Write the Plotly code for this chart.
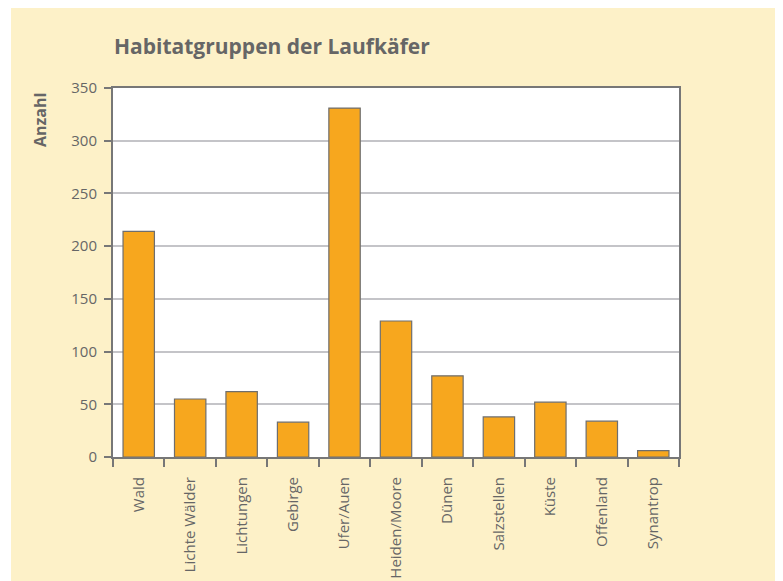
import plotly.graph_objects as go

categories = ["Wald", "Lichte Wälder", "Lichtungen", "Gebirge", "Ufer/Auen",
              "Heiden/Moore", "Dünen", "Salzstellen", "Küste", "Offenland", "Synantrop"]
values = [214, 55, 62, 33, 331, 129, 77, 38, 52, 34, 6]
y_ticks = [0, 50, 100, 150, 200, 250, 300, 350]

OFF = 8  # page body margin
W, H = 783, 581
L, R, T, B = 113 - OFF, 679 - OFF, 88 - OFF, 457 - OFF
BG = "#FDF1C8"
TXT = "#666666"
AX = "#777777"
FONT = "Open Sans"

fig = go.Figure(go.Bar(
    x=categories, y=values,
    marker=dict(color="#F7A71E", line=dict(color="#6E6E6E", width=1.2)),
    width=0.61,
))

pw, ph = R - L, B - T
def px_x(p): return (p - L) / pw
def px_y(p): return (B - p) / ph

fig.update_layout(
    width=W, height=H,
    margin=dict(l=L, r=W - R, t=T, b=H - B, pad=0, autoexpand=False),
    paper_bgcolor=BG, plot_bgcolor="white",
    showlegend=False,
    font=dict(family=FONT, color=TXT, size=15),
    title=dict(text="<b>Habitatgruppen der Laufkäfer</b>", x=(114 - OFF) / W, xanchor="left",
               y=1 - (47 - OFF) / H, yanchor="middle", xref="container", yref="container",
               font=dict(family=FONT, size=21, color=TXT)),
    bargap=0.39,
    xaxis=dict(
        type="category", tickangle=-90, showline=True, linecolor=AX, linewidth=2,
        mirror=True, ticks="outside", tickson="boundaries", ticklen=8, tickwidth=1.5,
        tickcolor=AX, showgrid=False, tickfont=dict(size=15, color=TXT, family=FONT),
        ticklabelstandoff=12, automargin=False,
    ),
    yaxis=dict(
        range=[0, 350], tickvals=y_ticks, showline=True, linecolor=AX, linewidth=2,
        mirror=True, ticks="outside", ticklen=7, tickwidth=1.5, tickcolor=AX,
        showgrid=True, gridcolor="#C4C4C8", gridwidth=1.5, zeroline=False,
        tickfont=dict(size=15, color=TXT, family=FONT), ticklabelstandoff=4,
        automargin=False,
    ),
    shapes=[
        dict(type="rect", xref="paper", yref="paper", x0=px_x(0) - 0.05, x1=px_x(3),
             y0=px_y(H) - 0.05, y1=px_y(0) + 0.05, fillcolor="white", line=dict(width=0), layer="above"),
    ],
    annotations=[
        dict(text="<b>Anzahl</b>", textangle=-90, xref="paper", yref="paper",
             x=px_x(40 - OFF), y=px_y(91 - OFF), xanchor="center", yanchor="top", showarrow=False,
             font=dict(family=FONT, size=16, color=TXT)),
    ],
)

fig.write_html("out.html")
